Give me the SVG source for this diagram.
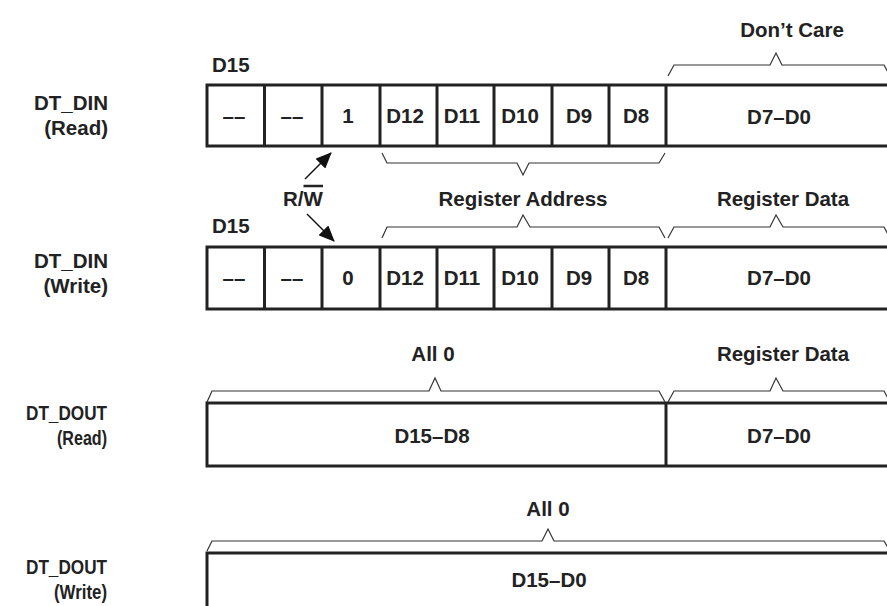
<svg xmlns="http://www.w3.org/2000/svg" width="887" height="606" viewBox="0 0 887 606">
<style>
text{font-family:"Liberation Sans",Arial,sans-serif;font-weight:bold;font-size:20.5px;fill:#222}
.c{text-anchor:middle}
.e{text-anchor:end}
.box{fill:#fff;stroke:#222;stroke-width:3}
.div{stroke:#222;stroke-width:3}
.brace{fill:none;stroke:#333;stroke-width:1.2}
.arr{stroke:#111;stroke-width:1.5;fill:none;marker-end:url(#ah)}
</style>
<defs>
<marker id="ah" viewBox="0 0 16 14" refX="15" refY="7" markerWidth="16" markerHeight="14" markerUnits="userSpaceOnUse" orient="auto">
<path d="M0,0 L16,7 L0,14 z" fill="#111"/>
</marker>
</defs>
<rect width="887" height="606" fill="#fff"/>

<g id="labels">
<text class="e" x="108" y="110">DT_DIN</text>
<text class="e" x="108" y="135">(Read)</text>
<text class="e" x="108" y="268">DT_DIN</text>
<text class="e" x="108" y="293">(Write)</text>
<text class="e" x="107" y="420" textLength="81" lengthAdjust="spacingAndGlyphs">DT_DOUT</text>
<text class="e" x="107" y="445" textLength="50" lengthAdjust="spacingAndGlyphs">(Read)</text>
<text class="e" x="107" y="574" textLength="81" lengthAdjust="spacingAndGlyphs">DT_DOUT</text>
<text class="e" x="107" y="599" textLength="53" lengthAdjust="spacingAndGlyphs">(Write)</text>
</g>

<g id="din-read">
<text x="212" y="72">D15</text>
<rect class="box" x="207" y="85" width="684" height="61"/>
<path class="div" d="M264.5,85V146M322,85V146M380,85V146M437,85V146M494,85V146M552,85V146M609,85V146M666,85V146"/>
<text class="c" x="234" y="123">––</text>
<text class="c" x="292" y="123">––</text>
<text class="c" x="348" y="123">1</text>
<text class="c" x="405" y="123">D12</text>
<text class="c" x="462" y="123">D11</text>
<text class="c" x="520" y="123">D10</text>
<text class="c" x="579" y="123">D9</text>
<text class="c" x="636" y="123">D8</text>
<text class="c" x="779" y="124">D7–D0</text>
</g>

<g id="din-write">
<text x="212" y="233">D15</text>
<rect class="box" x="207" y="247" width="684" height="62"/>
<path class="div" d="M264.5,247V309M322,247V309M380,247V309M437,247V309M494,247V309M552,247V309M609,247V309M666,247V309"/>
<text class="c" x="234" y="285">––</text>
<text class="c" x="292" y="285">––</text>
<text class="c" x="348" y="285">0</text>
<text class="c" x="405" y="285">D12</text>
<text class="c" x="462" y="285">D11</text>
<text class="c" x="520" y="285">D10</text>
<text class="c" x="579" y="285">D9</text>
<text class="c" x="636" y="285">D8</text>
<text class="c" x="779" y="285">D7–D0</text>
</g>

<g id="dout-read">
<rect class="box" x="207" y="403" width="684" height="63"/>
<path class="div" d="M666,403V466"/>
<text class="c" x="432" y="443">D15–D8</text>
<text class="c" x="779" y="443">D7–D0</text>
</g>

<g id="dout-write">
<rect class="box" x="207" y="553" width="684" height="80"/>
<text class="c" x="549" y="587">D15–D0</text>
</g>

<g id="braces">
<path class="brace" d="M668,76L674,65H770L776,53L782,65H884L890,76"/>
<text class="c" x="792" y="37">Don’t Care</text>
<path class="brace" d="M382,153L387,163H517L523,175L529,163H659L665,153"/>
<path class="brace" d="M382,238L387,227H517L523,215L530,227H659L665,238"/>
<text class="c" x="523" y="206">Register Address</text>
<path class="brace" d="M668,238L674,227H770L776,215L783,227H884L890,238"/>
<text class="c" x="783" y="206">Register Data</text>
<path class="brace" d="M207,402L212,391H429L435,378L441,391H659L665,402"/>
<text class="c" x="433" y="361">All 0</text>
<path class="brace" d="M668,402L674,391H770L776,378L783,391H884L890,402"/>
<text class="c" x="783" y="361">Register Data</text>
<path class="brace" d="M207,551L212,541H542L548,529L554,541H884L890,551"/>
<text class="c" x="548" y="516">All 0</text>
</g>

<g id="connectors">
<path class="arr" d="M305,179L331,153"/>
<path class="arr" d="M307,214L334,241"/>
<text x="283" y="206">R/W</text>
<path d="M303.5,186H323" stroke="#222" stroke-width="2.5"/>
</g>
</svg>
